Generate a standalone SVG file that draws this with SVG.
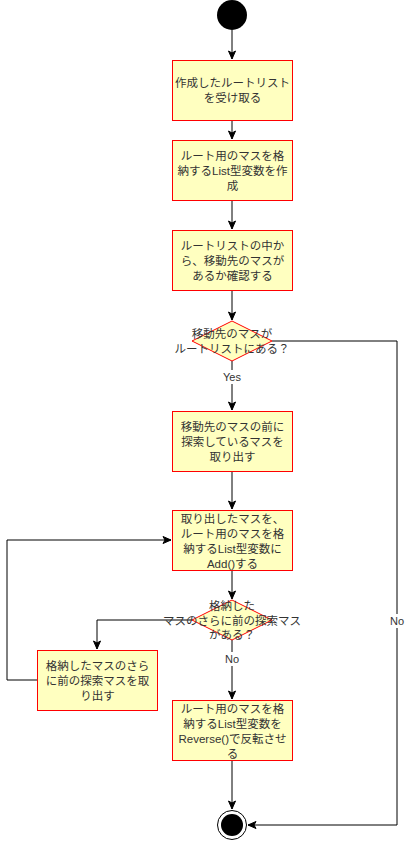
<svg xmlns="http://www.w3.org/2000/svg" width="416" height="841" viewBox="0 0 416 841">
<style>
.box{fill:#ffffc0;stroke:#ff0000;stroke-width:1}
.t{font-family:"Liberation Sans","Noto Sans CJK JP",sans-serif;font-size:11.5px;fill:#333333;text-anchor:middle;dominant-baseline:central}
.lbl{font-family:"Liberation Sans","Noto Sans CJK JP",sans-serif;font-size:11px;fill:#333333;text-anchor:middle;dominant-baseline:central}
.e{fill:none;stroke:#000000;stroke-width:1}
</style>
<defs>
<marker id="arr" markerUnits="userSpaceOnUse" markerWidth="10" markerHeight="10" viewBox="0 0 10 10" refX="9" refY="5" orient="auto">
<path d="M1,1.5 L9,5 L1,8.5 L3,5 Z" fill="#000000" stroke="#000000" stroke-width="1"/>
</marker>
</defs>
<g id="connectors">
<path class="e" d="M232,30 L232,59" marker-end="url(#arr)"/>
<path class="e" d="M232,120 L232,139" marker-end="url(#arr)"/>
<path class="e" d="M232,200 L232,229" marker-end="url(#arr)"/>
<path class="e" d="M232,290 L232,320" marker-end="url(#arr)"/>
<path class="e" d="M232,361 L232,410" marker-end="url(#arr)"/>
<path class="e" d="M272,341 L397,341 L397,825 L248,825" marker-end="url(#arr)"/>
<path class="e" d="M232,471 L232,509" marker-end="url(#arr)"/>
<path class="e" d="M232,570 L232,599" marker-end="url(#arr)"/>
<path class="e" d="M192,620 L97,620 L97,649" marker-end="url(#arr)"/>
<path class="e" d="M232,640 L232,699" marker-end="url(#arr)"/>
<path class="e" d="M37,680 L7,680 L7,540 L171,540" marker-end="url(#arr)"/>
<path class="e" d="M232,760 L232,809" marker-end="url(#arr)"/>
<rect x="220" y="370" width="24" height="14" fill="#ffffff"/>
<text class="lbl" x="232" y="377">Yes</text>
<rect x="388" y="614" width="18" height="14" fill="#ffffff"/>
<text class="lbl" x="397" y="621">No</text>
<rect x="223" y="652" width="18" height="14" fill="#ffffff"/>
<text class="lbl" x="232" y="659">No</text>
</g>
<g id="start">
<circle cx="232" cy="15" r="15" fill="#000000"/>
</g>
<g id="n1">
<rect class="box" x="172.5" y="60.5" width="120" height="60"/>
<text class="t" x="232.5" y="83">作成したルートリスト</text>
<text class="t" x="232.5" y="98">を受け取る</text>
</g>
<g id="n2">
<rect class="box" x="172.5" y="140.5" width="120" height="60"/>
<text class="t" x="232.5" y="155.5">ルート用のマスを格</text>
<text class="t" x="232.5" y="170.5">納するList型変数を作</text>
<text class="t" x="232.5" y="185.5">成</text>
</g>
<g id="n3">
<rect class="box" x="172.5" y="230.5" width="120" height="60"/>
<text class="t" x="232.5" y="245.5">ルートリストの中か</text>
<text class="t" x="232.5" y="260.5">ら、移動先のマスが</text>
<text class="t" x="232.5" y="275.5">あるか確認する</text>
</g>
<g id="d1">
<path class="box" d="M232,321 L272,341 L232,361 L192,341 Z"/>
<text class="t" x="232" y="334">移動先のマスが</text>
<text class="t" x="232" y="349">ルートリストにある？</text>
</g>
<g id="n4">
<rect class="box" x="172.5" y="411.5" width="120" height="60"/>
<text class="t" x="232.5" y="426.5">移動先のマスの前に</text>
<text class="t" x="232.5" y="441.5">探索しているマスを</text>
<text class="t" x="232.5" y="456.5">取り出す</text>
</g>
<g id="n5">
<rect class="box" x="172.5" y="510.5" width="120" height="60"/>
<text class="t" x="232.5" y="518.5">取り出したマスを、</text>
<text class="t" x="232.5" y="533.5">ルート用のマスを格</text>
<text class="t" x="232.5" y="548.5">納するList型変数に</text>
<text class="t" x="232.5" y="563.5">Add()する</text>
</g>
<g id="d2">
<path class="box" d="M232,600 L272,620 L232,640 L192,620 Z"/>
<text class="t" x="232" y="606">格納した</text>
<text class="t" x="232" y="620.5">マスのさらに前の探索マス</text>
<text class="t" x="232" y="635">がある？</text>
</g>
<g id="n6">
<rect class="box" x="37.5" y="650.5" width="120" height="60"/>
<text class="t" x="97.5" y="665.5">格納したマスのさら</text>
<text class="t" x="97.5" y="680.5">に前の探索マスを取</text>
<text class="t" x="97.5" y="695.5">り出す</text>
</g>
<g id="n7">
<rect class="box" x="172.5" y="700.5" width="120" height="60"/>
<text class="t" x="232.5" y="708.5">ルート用のマスを格</text>
<text class="t" x="232.5" y="723.5">納するList型変数を</text>
<text class="t" x="232.5" y="738.5">Reverse()で反転させ</text>
<text class="t" x="232.5" y="753.5">る</text>
</g>
<g id="end">
<circle cx="232" cy="825" r="14.5" fill="#ffffff" stroke="#000000" stroke-width="1"/>
<circle cx="232" cy="825" r="11" fill="#000000"/>
</g>
</svg>
